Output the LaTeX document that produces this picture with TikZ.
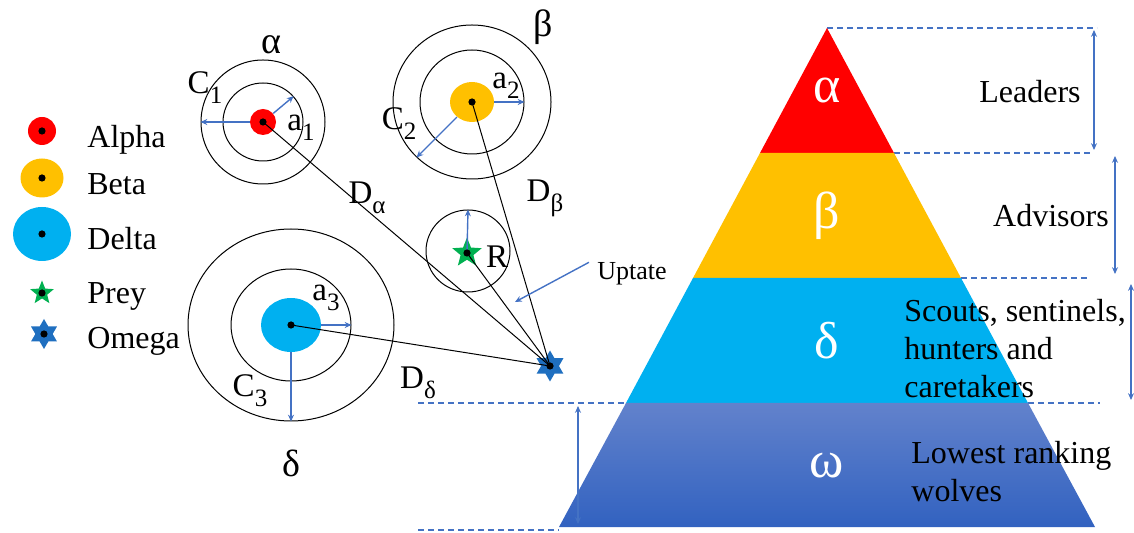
\documentclass[tikz,border=0pt]{standalone}
\usepackage{fontspec}
\setmainfont{LiberationSerif}[Extension=.ttf, UprightFont=*-Regular]
\newfontfamily\tnr{LiberationSerif}[Extension=.ttf, UprightFont=*-Regular]
\usetikzlibrary{arrows.meta, shapes.geometric}
\definecolor{alphacol}{RGB}{255,0,0}
\definecolor{betacol}{RGB}{255,192,0}
\definecolor{deltacol}{RGB}{0,176,240}
\definecolor{preycol}{RGB}{0,176,80}
\definecolor{omegacol}{RGB}{31,111,192}
\definecolor{arrcol}{RGB}{68,114,196}
\definecolor{omtop}{RGB}{98,130,204}
\definecolor{ombot}{RGB}{50,98,192}
\providecommand{\lsub}[1]{\raisebox{-5pt}{\fontsize{12.5}{13}\selectfont #1}}

\begin{document}
\begin{tikzpicture}[x=0.5pt, y=-0.5pt,
  >={Stealth[length=3.4pt, width=3pt]},
  ring/.style   = {draw, ellipse, inner sep=0pt, line width=0.5pt},
  wdot/.style   = {ellipse, inner sep=0pt},
  cdot/.style   = {circle, fill=black, inner sep=0pt, minimum size=3.6pt},
  preyst/.style = {star, star points=5, star point ratio=2.3, fill=preycol,
                   inner sep=0pt},
  omst/.style   = {star, star points=6, star point ratio=1.732, fill=omegacol,
                   inner sep=0pt},
  dline/.style  = {line width=0.5pt},
  barr/.style   = {->, arrcol, line width=0.7pt},
  guide/.style  = {arrcol, line width=0.7pt, dash pattern=on 3pt off 2pt},
  span/.style   = {<->, arrcol, line width=0.6pt},
  lgd/.style    = {font=\tnr\fontsize{16}{19}\selectfont, anchor=base west, inner sep=0pt},
  lbl/.style    = {font=\tnr\fontsize{16.5}{19}\selectfont, inner sep=0pt},
  grk/.style    = {font=\tnr\fontsize{19}{22}\selectfont, inner sep=0pt},
  pgrk/.style   = {font=\tnr\fontsize{26}{28}\selectfont, text=white, inner sep=0pt},
  rtext/.style  = {font=\tnr\fontsize{16}{19}\selectfont, align=left, inner sep=0pt},
]
\useasboundingbox (0,0) rectangle (1134,533);

% ---------- legend ----------
\node[wdot, fill=alphacol, minimum width=14pt, minimum height=14pt] (LAl) at (42,131) {};
\node[wdot, fill=betacol,  minimum width=21.5pt, minimum height=19.5pt] (LBe) at (42,178) {};
\node[wdot, fill=deltacol, minimum width=29pt, minimum height=27pt] (LDe) at (42,234) {};
\node[preyst, minimum size=12.5pt] (LPr) at (42,293) {};
\node[omst, minimum size=15pt] (LOm) at (44,334) {};
\node[lgd] (tAl) at (87,148) {Alpha};
\node[lgd] (tBe) at (87,195) {Beta};
\node[lgd] (tDe) at (87,250) {Delta};
\node[lgd] (tPr) at (87,304) {Prey};
\node[lgd] (tOm) at (87,349) {Omega};

% ---------- alpha wolf ----------
\node[ring, minimum width=62pt, minimum height=62pt] (Aout) at (263,122) {};
\node[ring, minimum width=40pt, minimum height=39pt] (Ain)  at (263,122) {};
\node[wdot, fill=alphacol, minimum width=13pt, minimum height=13pt] (Adot) at (263,122) {};
\node[grk] (Alab) at (271,45) {α};
\node[lbl] (C1) at (205,88) {C\lsub{1}};
\node[lbl] (a1) at (301,128) {a\lsub{1}};

% ---------- beta wolf ----------
\node[ring, minimum width=79pt, minimum height=77pt] (Bout) at (472,102) {};
\node[ring, minimum width=52pt, minimum height=52pt] (Bin)  at (472,102) {};
\node[wdot, fill=betacol, minimum width=22pt, minimum height=20pt] (Bdot) at (472,102) {};
\node[grk] (Blab) at (543,27) {β};
\node[lbl] (C2) at (399,124) {C\lsub{2}};
\node[lbl] (a2) at (506,86) {a\lsub{2}};

% ---------- prey ----------
\node[ring, minimum width=42pt, minimum height=41pt] (Rring) at (468,251) {};
\node[preyst, minimum size=15.5pt] (Rstar) at (467,253) {};
\node[lbl] (Rlab) at (497,257) {R};

% ---------- delta wolf ----------
\node[ring, minimum width=103pt, minimum height=96pt] (Dout) at (291,325) {};
\node[ring, minimum width=60pt, minimum height=56pt]  (Din)  at (291,325) {};
\node[wdot, fill=deltacol, minimum width=30pt, minimum height=27pt] (Ddot) at (291,325) {};
\node[grk] (Dlab) at (291,463) {δ};
\node[lbl] (C3) at (250,391) {C\lsub{3}};
\node[lbl] (a3) at (326,298) {a\lsub{3}};

% ---------- omega wolf ----------
\node[omst, minimum size=15.5pt] (Om) at (550,366) {};
\node[lbl] (DAl) at (367,198) {D\lsub{α}};
\node[lbl] (DBe) at (545,198) {D\lsub{β}};
\node[lbl] (DDe) at (418,383) {D\lsub{δ}};
\node[font=\tnr\fontsize{13}{15}\selectfont, inner sep=0pt] (Upt) at (632,274) {Uptate};
\coordinate (Utip) at (515,302);

\draw[dline] (Om.center) -- (Adot.center);
\draw[dline] (Om.center) -- (Bdot.center);
\draw[dline] (Om.center) -- (Rstar.center);
\draw[dline] (Om.center) -- (Ddot.center);

\draw[barr] (Adot.west)  -- (Aout.west);
\draw[barr] (Adot.40)    -- (Ain.40);
\draw[barr] (Bdot.east)  -- (Bin.east);
\draw[barr] (Bdot.225)   -- (Bout.225);
\draw[barr] (Rstar.center) -- (Rring.north);
\draw[barr] (Ddot.east)  -- (Din.east);
\draw[barr] (Ddot.south) -- (Dout.south);
\draw[barr] ([xshift=-4pt]Upt.north west) -- (Utip);

\foreach \n in {LAl,LBe,LDe,LPr,LOm,Adot,Bdot,Rstar,Ddot,Om}
  \node[cdot] (\n c) at (\n.center) {};

% ---------- pyramid ----------
\coordinate (Pa)  at (827,28);
\coordinate (P1l) at (760,153);  \coordinate (P1r) at (894,153);
\coordinate (P2l) at (693,278);  \coordinate (P2r) at (961,278);
\coordinate (P3l) at (626,403);  \coordinate (P3r) at (1028,403);
\coordinate (P4l) at (559,527);  \coordinate (P4r) at (1095,527);

\coordinate (Q0) at (1097,28);
\coordinate (Q1) at (1090,153);
\coordinate (Q2) at (1090,278);
\coordinate (Q3) at (1100,403);
\coordinate (Q3w) at (418,403);
\coordinate (Q4w) at (418,530);
\coordinate (Q4) at (559,530);

\draw[guide] (Pa)  -- (Q0);
\draw[guide] (P1r) -- (Q1);
\draw[guide] (P2r) -- (Q2);
\draw[guide] (Q3w) -- (Q3);
\draw[guide] (Q4w) -- (Q4);

\fill[alphacol] (Pa) -- (P1r) -- (P1l) -- cycle;
\fill[betacol]  (P1l) -- (P1r) -- (P2r) -- (P2l) -- cycle;
\fill[deltacol] (P2l) -- (P2r) -- (P3r) -- (P3l) -- cycle;
\shade[top color=omtop, bottom color=ombot] (P3l) -- (P3r) -- (P4r) -- (P4l) -- cycle;

\node[pgrk] (pA) at (827,90)  {α};
\node[pgrk] (pB) at (827,216) {β};
\node[pgrk] (pD) at (827,341) {δ};
\node[pgrk] (pO) at (827,466) {ω};

\coordinate (S0t) at (1094,30);  \coordinate (S0b) at (1094,150);
\coordinate (S1t) at (1115,156); \coordinate (S1b) at (1115,274);
\coordinate (S2t) at (1131,284); \coordinate (S2b) at (1131,400);
\coordinate (S3t) at (578,406);  \coordinate (S3b) at (578,524);
\draw[span] (S0t) -- (S0b);
\draw[span] (S1t) -- (S1b);
\draw[span] (S2t) -- (S2b);
\draw[span] (S3t) -- (S3b);

\node[rtext] (tLead) at (1030,92)  {Leaders};
\node[rtext] (tAdv)  at (1051,216) {Advisors};
\node[rtext, anchor=west] (tScout) at (904,349)
  {Scouts, sentinels,\\hunters and\\caretakers};
\node[rtext, anchor=west] (tLow) at (911,472) {Lowest ranking\\wolves};

\end{tikzpicture}
\end{document}
